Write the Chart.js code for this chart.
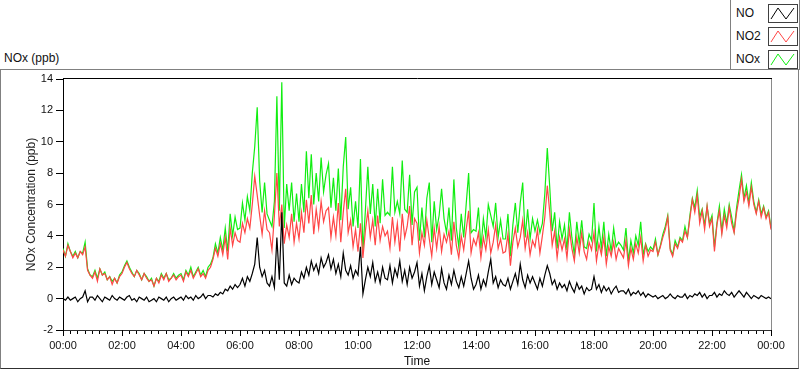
<!DOCTYPE html>
<html>
<head>
<meta charset="utf-8">
<script src="https://cdn.jsdelivr.net/npm/chart.js@4/dist/chart.umd.min.js"></script>
<style>
  body { margin: 0; background: #fff; }
  #wrap { position: relative; width: 800px; height: 369px; font-family: "Liberation Sans", Arial, sans-serif; }
  #frame { position: absolute; left: 0; top: 69px; width: 797px; height: 298px;
           border: 1px solid #808080; border-bottom-color: #303030; }
  #title { position: absolute; left: 4px; top: 51px; font-size: 12px; color: #111; }
  #legend { position: absolute; left: 730px; top: 0; width: 68px; height: 69px;
            border: 1px solid #808080; border-top: none; background: #fff; }
  .item { position: absolute; left: 5px; font-size: 12px; color: #111; }
  .swatch { position: absolute; left: 37px; width: 28px; height: 17px; border: 1px solid #404040; }
  canvas { position: absolute; left: 0; top: 0; }
</style>
</head>
<body>
<div id="wrap">
  <div id="frame"></div>
  <div id="title">NOx (ppb)</div>
  <div id="legend"></div>
  <canvas id="linechart" width="800" height="369"></canvas>
</div>
<script>
// 5 minute readings, one row per hour (00:00 ... 23:55, then 24:00)
var minuteStep = 5;

var noValues = [
  0.0,-0.1,0.1,-0.1,0.0,0.1,-0.2,0.0,0.1,0.5,-0.2,0.1,
  0.1,-0.1,0.2,0.0,-0.2,0.1,0.0,-0.1,0.2,0.0,-0.1,0.1,
  0.0,-0.1,0.1,0.2,-0.1,0.0,-0.2,0.1,0.0,-0.1,0.1,-0.2,
  -0.1,0.0,-0.2,0.1,0.0,-0.1,0.1,-0.2,0.0,0.1,-0.1,0.0,
  0.1,-0.1,0.2,0.0,0.1,-0.1,0.2,0.0,0.1,0.3,0.0,0.2,
  0.2,0.1,0.3,0.2,0.4,0.3,0.6,0.5,0.8,0.6,0.9,0.7,
  0.9,1.3,0.8,1.4,1.1,1.6,2.2,3.9,2.0,1.4,1.8,1.0,
  0.8,1.4,0.7,3.9,1.2,5.5,1.0,0.8,1.5,0.9,1.3,1.1,
  1.0,1.7,1.3,2.0,1.5,2.4,1.8,2.2,1.6,2.6,2.0,2.3,
  2.8,1.9,2.5,1.6,2.2,1.4,2.9,1.8,1.5,2.1,1.3,1.8,
  1.5,3.3,0.3,1.2,2.0,1.4,2.3,1.1,1.7,1.0,2.0,1.3,
  1.2,2.1,1.0,1.9,1.4,2.4,1.1,1.8,0.9,2.0,1.3,1.7,
  2.3,0.8,1.6,0.5,1.4,2.1,0.9,1.7,1.2,0.7,1.9,1.0,
  0.6,1.5,0.9,1.8,1.1,0.7,1.4,0.8,1.6,2.4,1.3,0.6,
  0.9,1.5,0.6,1.2,0.8,1.7,2.5,1.0,1.4,0.7,1.2,0.9,
  0.8,1.3,0.6,1.1,1.6,0.9,2.2,1.2,0.7,1.5,1.0,1.4,
  1.0,0.6,1.3,0.8,1.5,2.1,1.6,0.9,1.2,0.6,1.0,0.7,
  0.9,0.5,1.1,0.7,0.4,1.0,0.6,0.8,0.3,0.7,0.5,0.6,
  1.4,0.6,0.9,0.4,0.8,0.5,0.7,0.3,0.6,0.8,0.4,0.5,
  0.5,0.3,0.6,0.2,0.4,0.3,0.5,0.2,0.4,0.1,0.3,0.2,
  0.1,0.2,0.0,0.1,0.2,0.0,0.1,0.3,0.1,0.0,0.2,0.1,
  0.1,0.3,0.0,0.2,0.1,0.3,0.2,0.4,0.1,0.3,0.0,0.2,
  0.2,0.4,0.1,0.3,0.2,0.5,0.3,0.2,0.4,0.1,0.3,0.5,
  0.3,0.1,0.4,0.2,0.0,0.2,0.1,0.0,0.2,0.1,0.0,0.1,
  0.0
];

var no2Values = [
  3.1,2.7,3.4,3.0,2.6,2.9,2.6,3.0,2.8,3.3,1.8,1.5,
  1.3,1.7,1.1,1.9,1.5,1.6,1.2,1.4,0.9,1.3,1.0,1.4,
  1.6,2.0,2.3,1.9,1.6,1.4,1.8,1.5,1.2,1.6,1.3,1.1,
  1.2,0.8,1.3,1.0,1.5,1.2,1.6,1.1,1.3,1.5,1.2,1.4,
  1.5,1.1,1.7,1.4,1.8,1.3,1.6,1.9,1.4,1.6,1.3,1.8,
  2.0,2.5,3.2,2.7,3.5,2.8,3.9,2.5,4.5,3.4,4.2,3.7,
  3.6,4.8,4.2,5.1,4.5,6.0,7.8,6.6,5.3,4.1,5.6,4.4,
  4.2,3.1,5.3,8.0,4.6,6.0,3.5,4.7,3.9,5.4,3.6,4.8,
  3.8,5.5,4.2,6.3,4.8,6.6,4.1,5.7,4.5,6.2,4.9,5.6,
  5.8,3.9,5.2,4.0,6.1,3.6,5.5,7.0,4.2,5.0,3.3,4.4,
  3.0,4.8,2.6,4.3,5.6,3.9,5.0,3.4,5.3,3.7,4.6,4.0,
  4.3,3.2,5.2,3.6,4.8,3.0,5.4,3.9,4.6,5.9,3.4,5.1,
  4.8,2.9,4.2,3.4,5.0,3.8,2.7,4.5,3.2,4.6,3.0,4.1,
  3.6,4.3,2.8,4.9,3.4,2.6,4.0,3.1,4.4,5.6,2.9,3.8,
  3.4,4.2,2.6,3.9,3.1,4.4,2.9,3.6,4.7,3.2,3.8,2.9,
  3.0,4.1,2.1,3.6,4.5,3.3,3.9,5.0,3.2,4.2,2.8,3.7,
  3.3,4.4,2.9,4.0,5.2,7.2,5.5,3.4,4.3,2.6,3.9,3.1,
  3.8,2.6,4.4,3.2,2.4,3.9,2.9,4.2,3.0,2.5,3.6,3.1,
  4.2,2.4,3.5,2.8,3.9,2.2,3.3,2.7,3.6,2.5,3.2,2.9,
  2.6,3.7,2.1,3.2,2.5,3.5,2.9,3.9,2.4,3.4,2.7,3.1,
  3.0,3.6,2.8,3.3,3.9,4.4,5.2,3.1,2.7,3.5,3.2,3.8,
  3.6,4.3,3.9,5.1,6.3,5.5,6.6,4.8,5.6,4.4,5.9,4.6,
  5.1,3.0,4.7,5.6,4.1,5.3,4.5,5.8,4.8,4.2,5.5,6.4,
  7.6,6.2,6.8,5.9,7.1,6.0,5.4,6.2,5.2,5.8,5.1,5.5,
  4.4
];

var noxValues = [
  3.2,2.7,3.5,3.0,2.7,3.0,2.6,3.0,2.9,3.6,1.9,1.5,
  1.4,1.8,1.3,1.9,1.5,1.7,1.2,1.4,1.1,1.3,1.0,1.5,
  1.7,2.1,2.4,2.0,1.7,1.4,1.8,1.6,1.2,1.6,1.4,1.1,
  1.3,0.8,1.3,1.1,1.6,1.3,1.6,1.2,1.3,1.6,1.3,1.5,
  1.6,1.2,1.8,1.5,2.0,1.4,1.7,2.0,1.5,1.8,1.4,2.0,
  2.2,2.6,3.5,2.9,3.9,3.1,4.5,3.0,5.4,4.0,5.2,4.4,
  4.5,6.1,5.0,6.5,5.6,8.0,9.7,12.2,7.5,5.5,7.4,5.4,
  5.0,4.6,6.2,12.9,5.6,13.8,4.5,7.3,5.6,7.4,4.9,6.7,
  4.9,7.3,5.5,9.4,6.4,9.2,6.0,8.0,6.2,9.0,6.8,7.9,
  8.6,5.8,7.7,5.6,8.3,5.0,8.4,10.3,5.7,7.1,4.6,6.2,
  4.5,8.9,3.0,5.6,8.4,5.4,7.3,4.6,7.0,4.8,7.6,5.3,
  5.5,5.3,8.4,5.5,6.2,5.4,8.8,5.7,5.5,7.9,4.7,6.8,
  7.1,3.7,5.8,3.9,6.4,7.4,3.6,6.2,4.4,5.3,7.0,5.1,
  4.2,5.8,3.7,7.6,4.5,3.3,5.4,3.9,6.0,8.0,4.2,4.4,
  4.3,5.8,3.2,5.1,3.9,6.0,5.3,4.6,6.1,3.9,5.0,3.8,
  3.8,5.4,2.7,4.7,6.1,4.2,6.1,7.4,3.9,5.7,3.8,5.1,
  4.3,5.0,4.2,4.8,6.7,9.6,7.1,4.3,5.5,3.2,4.9,3.8,
  4.7,3.1,5.5,3.9,2.8,4.9,3.5,5.0,3.3,3.2,4.1,3.7,
  6.1,3.0,4.6,3.2,4.9,2.7,4.1,3.0,4.5,3.3,3.6,3.4,
  3.1,4.5,2.4,3.7,2.9,4.0,3.4,4.9,2.8,3.5,3.0,3.3,
  3.1,3.8,2.8,3.4,4.1,4.6,5.3,3.2,2.8,3.7,3.3,3.9,
  3.7,4.6,3.9,5.3,6.4,5.8,6.9,5.2,5.7,4.7,5.9,4.8,
  5.3,3.3,4.8,5.9,4.3,5.7,4.8,6.0,5.2,4.3,5.8,6.9,
  7.9,6.4,7.2,6.1,7.4,6.2,5.5,6.3,5.4,5.9,5.2,5.6,
  4.5
];

var tickLabels = ["00:00","02:00","04:00","06:00","08:00","10:00","12:00",
                  "14:00","16:00","18:00","20:00","22:00","00:00"];

var seriesNames = ["NO", "NO2", "NOx"];
var seriesColors = ["#000000", "#ff4646", "#11ee11"];

function toPoints(values) {
  return values.map(function(v, i) { return { x: i * minuteStep, y: v }; });
}

// legend box on the top right
var legend = document.getElementById("legend");
seriesNames.forEach(function(name, i) {
  var top = 4 + i * 23;
  legend.innerHTML +=
    '<div class="item" style="top:' + (top + 2) + 'px">' + name + '</div>' +
    '<div class="swatch" style="top:' + top + 'px">' +
    '<svg width="28" height="17"><polyline points="2,14 9,3 17,14 25,3" fill="none" stroke="' +
    seriesColors[i] + '" stroke-width="1"/></svg></div>';
});

// top and right edges of the plot, longer marks at the labelled hours
var plotEdges = {
  id: "plotEdges",
  afterDraw: function(chart) {
    var a = chart.chartArea, c = chart.ctx, xs = chart.scales.x;
    c.save();
    c.lineWidth = 1;
    c.strokeStyle = "#000";
    c.beginPath();
    c.moveTo(a.left, a.top - 0.5);
    c.lineTo(a.right + 1, a.top - 0.5);
    tickLabels.forEach(function(t, i) {
      var px = Math.round(xs.getPixelForValue(i * 120)) + 0.5;
      c.moveTo(px, a.bottom);
      c.lineTo(px, a.bottom + 6);
    });
    c.stroke();
    c.strokeStyle = "#8a8a8a";
    c.beginPath();
    c.moveTo(a.right + 0.5, a.top);
    c.lineTo(a.right + 0.5, a.bottom);
    c.stroke();
    c.restore();
  }
};

var tickFont = { family: "Liberation Sans", size: 11 };

var ctx = document.getElementById("linechart").getContext("2d");
var myLineChart = new Chart(ctx, {
  type: "line",
  data: {
    datasets: [
      { label: seriesNames[0], data: toPoints(noValues), borderColor: seriesColors[0] },
      { label: seriesNames[1], data: toPoints(no2Values), borderColor: seriesColors[1] },
      { label: seriesNames[2], data: toPoints(noxValues), borderColor: seriesColors[2] }
    ]
  },
  options: {
    responsive: false,
    animation: false,
    events: [],
    elements: {
      line: { borderWidth: 1.2, tension: 0 },
      point: { radius: 0 }
    },
    layout: { padding: { left: 23, right: 29, top: 79, bottom: 0 } },
    plugins: {
      legend: { display: false },
      tooltip: { enabled: false }
    },
    scales: {
      x: {
        type: "linear",
        min: 0,
        max: 1440,
        afterFit: function(scale) { scale.height = 39; },
        grid: { drawOnChartArea: false, tickLength: 4, tickColor: "#000" },
        border: { color: "#303030" },
        ticks: {
          stepSize: 15,
          autoSkip: false,
          maxRotation: 0,
          padding: 5,
          color: "#111",
          font: tickFont,
          callback: function(v) { return v % 120 === 0 ? tickLabels[v / 120] : ""; }
        },
        title: {
          display: true,
          text: "Time",
          color: "#111",
          padding: { top: 0, bottom: 0 },
          font: { family: "Liberation Sans", size: 12 }
        }
      },
      y: {
        min: -2,
        max: 14,
        afterFit: function(scale) { scale.width = 40; },
        grid: { drawOnChartArea: false, tickLength: 7, tickColor: "#000" },
        border: { color: "#000" },
        ticks: { stepSize: 2, padding: 3, color: "#111", font: tickFont },
        title: {
          display: true,
          text: "NOx Concentration (ppb)",
          color: "#222",
          padding: { top: 1, bottom: 0 },
          font: { family: "Liberation Sans", size: 12 }
        }
      }
    }
  },
  plugins: [plotEdges]
});
</script>
</body>
</html>
